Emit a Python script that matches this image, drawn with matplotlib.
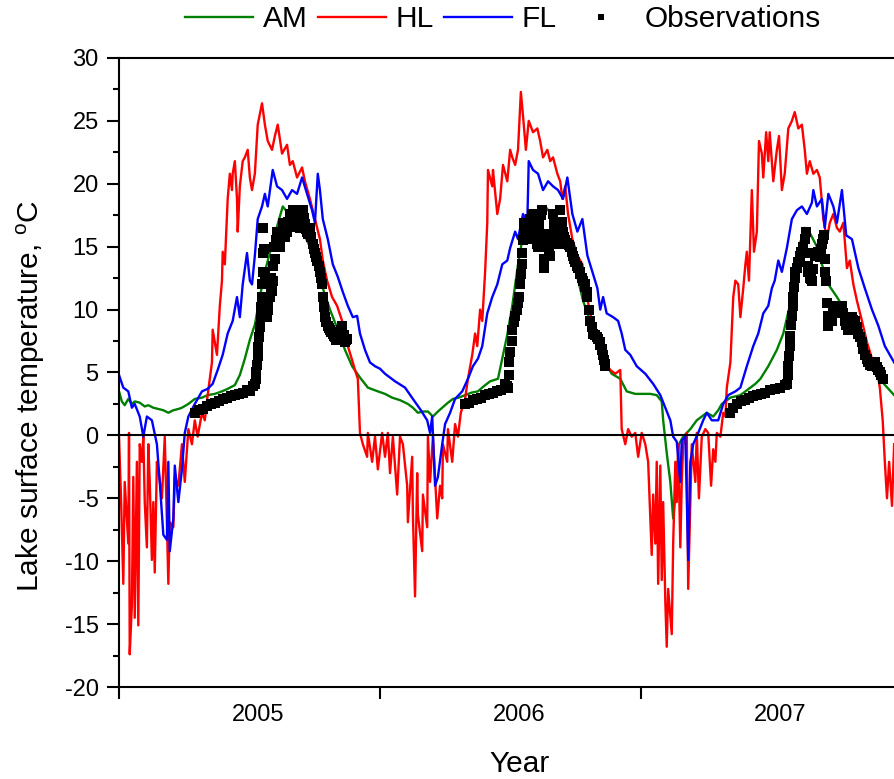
import numpy as np
import pandas as pd
import matplotlib
matplotlib.use("Agg")
import matplotlib.pyplot as plt
import matplotlib.dates as mdates
from matplotlib.ticker import MultipleLocator, NullFormatter

plt.rcParams["font.family"] = ["Liberation Sans", "DejaVu Sans"]
plt.rcParams["mathtext.fontset"] = "custom"
plt.rcParams["mathtext.rm"] = "Liberation Sans"
plt.rcParams["mathtext.it"] = "Liberation Sans:italic"
plt.rcParams["axes.unicode_minus"] = False

# Days are counted from 1 January 2005; temperatures in degrees C.
am_day = [0, 4, 8, 13, 18, 22, 29, 36, 41, 48, 55, 62, 69, 76, 83, 88, 97, 106, 116, 124,
          134, 144, 152, 162, 169, 176, 183, 190, 197, 204, 214, 222, 229, 236, 246, 257, 267,
          277, 285, 295, 306, 316, 326, 337, 348, 362, 372, 382, 393, 404, 411, 418, 425, 432,
          439, 446, 452, 460, 467, 475, 484, 493, 502, 510, 519, 530, 537, 543, 550, 558, 565,
          572, 585, 596, 603, 610, 621, 631, 641, 649, 659, 669, 680, 689, 701, 710, 722, 736,
          743, 752, 759, 761, 766, 771, 775, 780, 783, 789, 799, 808, 815, 822, 831, 838, 843,
          855, 862, 869, 876, 883, 890, 897, 908, 920, 929, 938, 945, 952, 959, 966, 976, 983,
          992, 1004, 1018, 1032, 1043, 1055, 1068, 1084]
am_temp = [3.5, 2.7, 2.4, 2.9, 2.5, 2.7, 2.6, 2.3, 2.4, 2.2, 2.1, 2.0, 1.8, 2.0, 2.1, 2.2, 2.5,
           2.9, 3.0, 3.2, 3.3, 3.5, 3.7, 4.0, 4.8, 6.1, 7.6, 8.8, 11.0, 13.0, 15.2, 16.8, 18.2,
           17.7, 16.9, 16.2, 15.0, 13.3, 11.7, 10.0, 8.4, 6.8, 5.5, 4.6, 3.8, 3.5, 3.3, 3.0, 2.8,
           2.5, 2.2, 1.8, 1.9, 1.9, 1.5, 1.9, 2.2, 2.6, 2.9, 3.0, 3.2, 3.4, 3.5, 3.9, 4.3, 4.5,
           6.4, 8.0, 10.3, 13.6, 15.9, 16.9, 17.8, 18.2, 17.7, 16.9, 16.1, 14.3, 12.6, 10.7, 9.1,
           7.4, 5.8, 4.9, 4.5, 3.5, 3.3, 3.3, 3.3, 3.2, 2.7, 1.2, -1.4, -3.7, -6.6, -3.7, -0.7,
           -0.1, 0.5, 1.2, 1.5, 1.8, 1.5, 2.0, 2.5, 3.0, 3.1, 3.2, 3.5, 3.8, 4.1, 4.5, 5.5, 6.8,
           8.1, 10.3, 12.6, 15.2, 16.5, 16.1, 15.0, 13.6, 12.0, 11.0, 9.7, 8.4, 6.8, 5.5, 4.2, 3.2]

hl_day = [0, 3, 6, 8, 13, 14, 15, 18, 20, 22, 25, 27, 29, 32, 34, 36, 39, 41, 43, 46, 48, 50,
          53, 55, 60, 64, 67, 69, 71, 76, 78, 83, 88, 92, 97, 102, 106, 110, 116, 120, 124, 130,
          131, 137, 141, 144, 145, 148, 152, 155, 158, 159, 162, 165, 166, 169, 173, 176, 180,
          183, 186, 190, 194, 200, 204, 208, 214, 218, 222, 228, 235, 239, 243, 249, 256, 260,
          267, 274, 281, 285, 291, 298, 305, 312, 320, 327, 330, 334, 337, 341, 347, 348, 354,
          358, 362, 368, 372, 376, 379, 383, 389, 393, 397, 403, 404, 410, 411, 414, 417, 418,
          424, 425, 431, 432, 435, 439, 445, 449, 452, 453, 459, 460, 466, 470, 474, 478, 484,
          488, 494, 498, 501, 505, 508, 512, 515, 516, 522, 523, 529, 533, 537, 543, 547, 550,
          554, 558, 562, 565, 569, 573, 579, 585, 589, 593, 599, 603, 607, 613, 617, 620, 624,
          628, 634, 641, 648, 652, 659, 666, 673, 680, 687, 694, 701, 703, 708, 712, 717, 722,
          726, 731, 736, 740, 745, 747, 750, 752, 754, 757, 759, 761, 764, 766, 768, 773, 775,
          778, 780, 782, 785, 787, 789, 794, 796, 799, 801, 806, 808, 811, 815, 820, 824, 828,
          831, 834, 836, 841, 845, 848, 850, 855, 859, 862, 866, 869, 873, 876, 878, 881, 885,
          888, 892, 895, 899, 901, 905, 908, 910, 915, 920, 923, 927, 931, 936, 941, 945, 950,
          955, 959, 962, 966, 971, 976, 980, 985, 990, 994, 999, 1004, 1008, 1013, 1018, 1022,
          1027, 1032, 1039, 1046, 1053, 1060, 1064, 1068, 1071, 1074, 1077, 1081, 1084]
hl_temp = [-0.1, -5.3, -11.8, -3.7, -8.6, 0.2, -17.4, -13.5, -3.3, -14.5, -2.1, -15.1, -0.7,
           -2.1, -0.1, -5.3, -8.9, -0.7, -3.7, -9.9, -5.3, -10.9, -2.1, -2.7, -5.0, -0.1, -6.9,
           -11.8, -6.9, -7.3, -3.3, -4.0, -0.7, -3.7, 0.5, -0.7, 1.2, -0.1, 1.8, 1.2, 3.2, 5.8,
           8.4, 6.4, 10.3, 12.3, 14.6, 13.6, 18.8, 20.8, 19.5, 20.8, 21.8, 18.8, 16.2, 19.8, 21.8,
           22.1, 22.7, 20.5, 19.5, 20.8, 24.7, 26.4, 24.7, 23.4, 22.7, 23.8, 24.7, 22.4, 23.1,
           21.5, 21.8, 20.5, 21.3, 20.2, 18.8, 17.2, 15.6, 13.9, 12.3, 11.0, 10.3, 9.1, 7.1, 5.8,
           5.2, 4.5, 0.2, -0.7, -1.7, 0.2, -2.1, -0.1, -2.7, 0.2, -1.7, 0.2, -3.0, -0.1, -4.7,
           -0.1, -0.7, -4.0, -6.9, -1.7, -6.3, -12.8, -3.0, -6.3, -9.2, -4.7, -7.3, -0.1, -3.7,
           -0.1, -6.6, -4.0, -5.0, -0.7, -2.1, 0.5, -2.1, 0.9, -0.1, 1.8, 2.9, 4.5, 6.4, 8.1, 7.1,
           10.0, 9.1, 13.0, 16.9, 21.1, 19.8, 21.1, 17.6, 18.8, 21.5, 20.2, 22.7, 22.1, 21.5, 22.7,
           27.3, 25.4, 22.7, 25.0, 24.1, 24.4, 23.4, 22.1, 22.7, 21.8, 22.1, 20.8, 20.2, 18.8,
           19.8, 17.6, 15.6, 14.3, 13.6, 11.7, 9.7, 8.1, 6.8, 5.8, 5.2, 4.9, 5.2, 0.5, -0.7, 0.5,
           -0.1, 0.2, -1.7, 0.2, -0.7, -2.1, -9.5, -4.7, -8.6, -2.1, -11.8, -2.4, -11.5, -5.3,
           -13.2, -16.8, -12.2, -15.8, -8.6, -2.1, -5.3, -0.7, -8.9, -3.7, -0.7, 0.2, -12.2, -5.3,
           -0.7, -3.7, 0.2, -5.0, -0.1, 0.5, 0.2, -4.0, -1.1, -2.1, 0.2, -0.1, 1.8, 1.5, 3.8, 5.8,
           11.0, 12.3, 12.0, 9.4, 11.7, 13.6, 14.6, 12.3, 19.5, 14.6, 16.2, 23.4, 22.4, 20.5,
           24.1, 21.8, 24.1, 20.2, 22.7, 23.8, 19.5, 20.8, 24.4, 25.0, 25.7, 24.4, 24.7, 22.7,
           20.8, 21.8, 20.8, 21.1, 20.5, 17.2, 15.6, 16.9, 17.6, 16.5, 16.2, 16.9, 13.3, 13.9,
           12.0, 10.7, 9.1, 7.4, 6.1, 5.2, 3.8, 1.2, -2.1, -5.0, -2.1, -5.6, -0.7]

fl_day = [0, 6, 13, 18, 22, 29, 34, 39, 46, 53, 57, 62, 67, 69, 71, 76, 78, 83, 88, 92, 97, 106,
          116, 124, 131, 138, 145, 152, 159, 165, 169, 173, 179, 183, 186, 190, 194, 200, 204,
          208, 215, 221, 228, 235, 242, 249, 256, 263, 270, 274, 278, 281, 285, 292, 299, 306,
          313, 320, 327, 333, 337, 344, 351, 358, 365, 372, 386, 400, 411, 421, 431, 435, 438,
          442, 446, 452, 456, 463, 470, 480, 488, 495, 502, 508, 515, 522, 529, 536, 543, 547,
          554, 558, 565, 571, 573, 579, 586, 593, 600, 607, 614, 621, 627, 634, 641, 648, 655,
          662, 669, 673, 677, 682, 691, 698, 703, 708, 715, 724, 736, 747, 757, 764, 771, 775,
          780, 785, 787, 792, 796, 799, 803, 810, 817, 822, 829, 838, 845, 852, 862, 869, 878,
          887, 894, 901, 908, 913, 917, 922, 927, 934, 941, 948, 955, 962, 969, 971, 976, 983,
          987, 992, 999, 1004, 1011, 1017, 1025, 1034, 1043, 1053, 1062, 1071, 1081, 1084]
fl_temp = [4.8, 3.8, 3.5, 2.2, 2.5, 1.5, -0.1, 1.5, 1.2, -0.7, -3.7, -7.9, -8.3, -2.1, -9.2,
           -6.6, -2.4, -5.3, -2.7, 0.2, 1.5, 2.5, 3.5, 3.7, 4.1, 5.2, 6.4, 8.1, 9.1, 11.0, 9.4,
           12.0, 14.5, 12.3, 12.0, 14.3, 17.2, 18.2, 19.2, 18.2, 21.1, 19.8, 19.5, 18.8, 19.5,
           19.2, 20.5, 19.2, 17.9, 16.9, 20.8, 19.5, 17.2, 15.6, 13.6, 12.6, 11.4, 10.3, 9.4, 9.5,
           8.1, 6.8, 5.8, 5.5, 5.3, 4.9, 4.3, 3.8, 2.9, 2.1, 1.2, 0.2, 1.5, -4.0, -3.3, -0.7, 0.9,
           1.8, 2.9, 3.5, 4.5, 5.5, 6.1, 7.1, 9.7, 11.0, 12.0, 13.6, 13.9, 14.9, 16.2, 15.6, 17.6,
           16.9, 21.8, 21.1, 20.8, 19.5, 20.2, 19.8, 19.5, 18.8, 20.5, 17.6, 16.2, 17.2, 14.3,
           13.0, 11.7, 10.0, 11.0, 9.7, 9.4, 9.1, 8.1, 6.8, 6.4, 5.5, 4.9, 4.1, 3.2, 2.2, 1.2,
           -0.1, -0.5, -3.7, -0.4, -0.1, -9.9, -2.1, -0.7, 0.2, 1.2, 1.8, 1.2, 1.2, 2.5, 3.2, 3.5,
           3.8, 5.5, 7.1, 8.1, 9.7, 10.3, 11.7, 12.3, 13.9, 13.0, 14.9, 17.2, 17.9, 18.2, 17.6,
           18.5, 19.5, 18.2, 18.8, 16.5, 19.2, 18.2, 16.9, 19.5, 15.9, 15.6, 13.3, 11.7, 10.0,
           8.7, 7.1, 6.1, 5.8]

obs_day = [106, 112, 117, 123, 129, 134, 140, 145, 151, 157, 162, 168, 173, 179, 183, 187,
           190, 191, 192, 193, 194, 195, 196, 197, 198, 199, 200, 200.5, 201, 201.5, 202, 203,
           204, 205, 206, 207, 208, 209, 211, 212, 213, 214, 215, 216, 217, 218, 219, 221, 223,
           225, 227, 229, 231, 232, 234, 235, 237, 239, 241, 243, 245, 246, 248, 249, 251, 253,
           255, 257, 259, 260, 262, 263, 265, 267, 269, 271, 273, 274, 276, 277, 279, 281, 283,
           284, 285, 286, 288, 290, 292, 294, 295, 297, 299, 301, 302, 304, 306, 308, 309, 311,
           312, 314, 316, 318, 319,
           484, 489, 495, 501, 506, 512, 517, 523, 529, 534, 540, 542, 544, 545, 546, 547, 549,
           550, 552, 554, 556, 558, 560, 561, 562, 563, 564, 565, 566, 567, 569, 571, 573, 575,
           577, 579, 581, 583, 585, 586, 587, 588, 590, 592, 593, 594, 595, 597, 599, 601, 603,
           605, 607, 608, 610, 612, 613, 615, 617, 619, 621, 622, 624, 626, 627, 629, 631, 633,
           635, 637, 638, 640, 642, 644, 645, 647, 649, 651, 652, 654, 655, 657, 659, 661, 663,
           665, 666, 668, 670, 672, 673, 675, 676, 677, 678, 679, 680,
           855, 859, 864, 870, 876, 881, 887, 892, 898, 903, 910, 917, 924, 931, 934, 935, 936,
           937, 938, 939, 940, 941, 942, 943, 944, 945, 946, 948, 950, 952, 954, 957, 959, 961,
           962, 963, 964, 966, 968, 969, 971, 973, 975, 978, 980, 982, 983, 985, 986, 987, 988,
           989, 990, 991, 992, 994, 996, 997, 999, 1001, 1003, 1006, 1008, 1011, 1013, 1015,
           1017, 1020, 1022, 1025, 1027, 1029, 1032, 1034, 1036, 1039, 1041, 1043, 1046, 1048,
           1050, 1053, 1055, 1057, 1060, 1062, 1064, 1066, 1068]
obs_temp = [1.8, 2.0, 2.1, 2.3, 2.5, 2.6, 2.7, 2.9, 3.0, 3.1, 3.2, 3.3, 3.4, 3.6, 3.5, 3.9,
            4.1, 4.5, 5.0, 5.6, 6.3, 7.0, 7.8, 8.6, 9.4, 10.2, 11.0, 12.0, 13.0, 14.5, 16.5, 14.8,
            12.8, 11.0, 10.0, 9.4, 10.0, 10.5, 11.0, 11.8, 12.5, 11.5, 12.3, 13.5, 15.0, 14.0,
            15.5, 16.2, 15.5, 15.0, 16.0, 16.9, 16.5, 15.8, 16.7, 16.2, 17.0, 17.6, 17.0, 17.9,
            17.3, 16.6, 17.0, 17.2, 16.8, 16.5, 17.2, 17.9, 17.3, 16.8, 16.4, 16.2, 16.0, 16.5,
            15.8, 15.2, 14.8, 14.5, 14.2, 13.9, 13.5, 13.0, 12.5, 12.0, 11.0, 10.2, 9.4, 9.0, 8.7,
            8.5, 8.4, 8.2, 8.1, 7.9, 7.8, 7.6, 7.7, 7.9, 8.0, 8.4, 8.7, 8.0, 7.4, 7.6, 7.7,
            2.5, 2.6, 2.8, 2.9, 3.0, 3.2, 3.3, 3.4, 3.5, 3.6, 4.1, 3.9, 3.8, 4.8, 5.8, 6.6, 7.5,
            8.4, 9.0, 9.5, 10.0, 10.5, 11.0, 12.0, 12.8, 13.6, 14.5, 15.5, 16.9, 16.2, 15.8, 15.6,
            16.5, 17.2, 17.6, 17.2, 16.9, 16.0, 15.2, 15.0, 16.0, 16.8, 17.5, 17.9, 16.0, 13.3,
            14.0, 15.0, 15.2, 14.6, 14.3, 16.0, 17.6, 16.8, 16.0, 15.5, 15.2, 16.5, 17.9, 17.0,
            16.2, 15.8, 15.5, 15.3, 15.2, 15.1, 15.0, 14.6, 14.3, 14.0, 13.8, 13.5, 13.3, 13.0,
            12.8, 12.5, 12.3, 12.0, 11.8, 11.4, 11.0, 10.0, 9.1, 8.6, 8.1, 8.0, 8.0, 7.8, 7.7,
            7.4, 7.2, 6.9, 6.8, 6.4, 6.0, 5.7, 5.5,
            1.8, 2.2, 2.5, 2.7, 2.8, 3.0, 3.1, 3.2, 3.3, 3.4, 3.6, 3.7, 3.8, 4.0, 4.1, 4.8, 5.5,
            6.3, 7.1, 7.9, 8.8, 9.5, 10.3, 11.0, 11.8, 12.5, 13.0, 13.3, 13.8, 14.3, 14.6, 15.0,
            15.6, 16.2, 14.5, 13.5, 13.0, 12.5, 12.4, 12.3, 13.2, 14.3, 14.5, 14.6, 14.2, 14.8,
            15.2, 15.6, 15.9, 14.0, 13.0, 12.3, 10.5, 9.5, 8.7, 9.5, 9.3, 9.1, 9.7, 10.3, 10.0,
            9.7, 10.0, 10.3, 9.7, 9.1, 8.8, 8.4, 8.9, 9.4, 9.2, 9.1, 8.6, 8.1, 7.8, 7.4, 6.9,
            6.4, 6.1, 5.8, 5.6, 5.5, 5.7, 5.8, 5.4, 5.2, 5.0, 4.8, 4.5]

START = pd.Timestamp("2005-01-01")


def to_dates(days):
    return START + pd.to_timedelta(np.asarray(days, dtype=float), unit="D")


fig = plt.figure(figsize=(8.94, 7.79), dpi=100)
ax = fig.add_axes([0.13311, 0.1181, 0.87584, 0.80745])

ax.plot(to_dates(am_day), am_temp, color="#008000", lw=1.7, label="AM", zorder=2)
ax.plot(to_dates(hl_day), hl_temp, color="#ff0000", lw=1.7, label="HL", zorder=2.1)
ax.plot(to_dates(fl_day), fl_temp, color="#0000ff", lw=1.7, label="FL", zorder=2.2)
ax.plot(to_dates(obs_day), obs_temp, ls="none", marker="s", ms=7.0, mew=0,
        color="black", label="Observations", zorder=3)
ax.axhline(0, color="black", lw=1.5, zorder=2.5)

ax.set_xlim(START, pd.Timestamp("2008-01-01"))
ax.set_ylim(-20, 30)

ax.yaxis.set_major_locator(MultipleLocator(5))
ax.yaxis.set_minor_locator(MultipleLocator(2.5))
ax.xaxis.set_major_locator(mdates.YearLocator())
ax.xaxis.set_major_formatter(NullFormatter())
ax.xaxis.set_minor_locator(mdates.MonthLocator(bymonth=7, bymonthday=15))
ax.xaxis.set_minor_formatter(mdates.DateFormatter("%Y"))

ax.tick_params(axis="x", which="major", direction="out", length=8.6, width=1.5)
ax.tick_params(axis="x", which="minor", length=0, pad=12, labelsize=17)
ax.tick_params(axis="y", which="major", direction="out", length=8.6, width=1.5,
               pad=6, labelsize=17)
ax.tick_params(axis="y", which="minor", direction="out", length=4.3, width=1.5)

for side in ("left", "bottom", "top"):
    ax.spines[side].set_linewidth(1.5)
ax.spines["right"].set_visible(False)

ax.set_ylabel("Lake surface temperature, $^{\\mathrm{o}}$C", fontsize=21.5)
ax.yaxis.set_label_coords(-0.092, 0.4634)
ax.set_xlabel("Year", fontsize=21.5)
ax.xaxis.set_label_coords(0.512, -0.100)

handles, labels = ax.get_legend_handles_labels()
fig.legend(handles, labels, loc="center", bbox_to_anchor=(503 / 894, 1 - 19 / 779),
           ncol=4, frameon=False, fontsize=21.5, handlelength=2.27, handletextpad=0.33,
           columnspacing=0.35, borderpad=0, borderaxespad=0, numpoints=1, markerscale=0.6)

fig.savefig("out.png", dpi=100)
